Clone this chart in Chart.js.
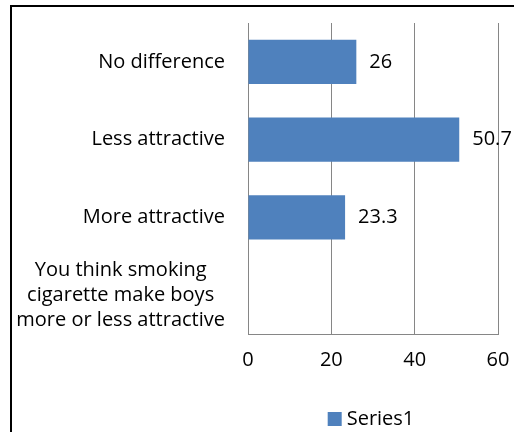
<!DOCTYPE html>
<html>
<head>
<meta charset="utf-8">
<script src="https://cdn.jsdelivr.net/npm/chart.js@4.4.1/dist/chart.umd.min.js"></script>
<style>
    html, body { margin: 0; padding: 0; background: #fff; }
    canvas { display: block; }
</style>
</head>
<body>
<canvas id="grafico" width="514" height="432"></canvas>
<script>
    // Datos del gráfico
    const categorias = [
        "No difference",
        "Less attractive",
        "More attractive",
        ["You think smoking", "cigarette make boys", "more or less attractive"],
    ];
    const valores = [26, 50.7, 23.3, null];
    const ticksX = [0, 20, 40, 60];
    const nombreSerie = "Series1";

    const FUENTE = "'Open Sans', Lato, sans-serif";
    const TAM = 20;
    const AZUL = "#4F81BD";

    // Marco del área del gráfico
    const marcoPlugin = {
        id: "marco",
        beforeDraw(chart) {
            const ctx = chart.ctx;
            ctx.save();
            ctx.fillStyle = "#fff";
            ctx.fillRect(0, 0, chart.width, chart.height);
            ctx.strokeStyle = "#000";
            ctx.lineWidth = 2;
            ctx.strokeRect(11, 6, chart.width + 20, chart.height + 20);
            ctx.restore();
        },
    };

    // Etiquetas de categoría (alineadas a la derecha, varias líneas centradas)
    const categoriasPlugin = {
        id: "categorias",
        afterDraw(chart) {
            const ctx = chart.ctx;
            const escala = chart.scales.y;
            const derecha = chart.chartArea.left - 23;
            ctx.save();
            ctx.font = TAM + "px " + FUENTE;
            ctx.fillStyle = "#000";
            ctx.textBaseline = "middle";
            ctx.textAlign = "center";
            categorias.forEach((cat, i) => {
                const y = escala.getPixelForValue(i);
                const lineas = Array.isArray(cat) ? cat : [cat];
                const ancho = Math.max(...lineas.map((l) => ctx.measureText(l).width));
                const centro = derecha - ancho / 2;
                const alto = 25;
                lineas.forEach((linea, j) => {
                    const ly = y + (j - (lineas.length - 1) / 2) * alto;
                    ctx.fillText(linea, centro, ly);
                });
            });
            ctx.restore();
        },
    };

    // Valores al final de cada barra
    const valoresPlugin = {
        id: "valores",
        afterDatasetsDraw(chart) {
            const ctx = chart.ctx;
            const meta = chart.getDatasetMeta(0);
            ctx.save();
            ctx.font = TAM + "px " + FUENTE;
            ctx.fillStyle = "#000";
            ctx.textAlign = "left";
            ctx.textBaseline = "middle";
            meta.data.forEach((barra, i) => {
                if (valores[i] === null) return;
                ctx.fillText(String(valores[i]), barra.x + 13, barra.y);
            });
            ctx.restore();
        },
    };

    // Leyenda debajo del eje
    const leyendaPlugin = {
        id: "leyenda",
        afterDraw(chart) {
            const ctx = chart.ctx;
            const area = chart.chartArea;
            ctx.save();
            ctx.font = TAM + "px " + FUENTE;
            const texto = chart.data.datasets[0].label;
            const ancho = 14 + 5 + ctx.measureText(texto).width;
            const x = (area.left + area.right) / 2 - ancho / 2 - 2;
            const y = 419;
            ctx.fillStyle = chart.data.datasets[0].backgroundColor;
            ctx.fillRect(x, y - 7, 14, 14);
            ctx.fillStyle = "#000";
            ctx.textAlign = "left";
            ctx.textBaseline = "middle";
            ctx.fillText(texto, x + 19, y);
            ctx.restore();
        },
    };

    new Chart(document.getElementById("grafico").getContext("2d"), {
        type: "bar",
        data: {
            labels: categorias,
            datasets: [
                {
                    label: nombreSerie,
                    data: valores,
                    backgroundColor: AZUL,
                    borderWidth: 0,
                    barPercentage: 0.57,
                    categoryPercentage: 1,
                },
            ],
        },
        options: {
            indexAxis: "y",
            responsive: false,
            animation: false,
            layout: {
                padding: { left: 240, top: 23, right: 16, bottom: 46 },
            },
            scales: {
                x: {
                    min: ticksX[0],
                    max: ticksX[ticksX.length - 1],
                    afterBuildTicks(scale) {
                        scale.ticks = ticksX.map((v) => ({ value: v }));
                    },
                    afterFit(scale) {
                        scale.paddingLeft = 0;
                        scale.paddingRight = 0;
                    },
                    grid: { color: "#868686", drawTicks: false },
                    border: { color: "#868686" },
                    ticks: {
                        color: "#000",
                        padding: 14,
                        font: { family: FUENTE, size: TAM },
                    },
                },
                y: {
                    grid: { display: false },
                    border: { color: "#868686" },
                    ticks: { display: false },
                },
            },
            plugins: {
                legend: { display: false },
                tooltip: { enabled: false },
            },
        },
        plugins: [marcoPlugin, categoriasPlugin, valoresPlugin, leyendaPlugin],
    });
</script>
</body>
</html>
